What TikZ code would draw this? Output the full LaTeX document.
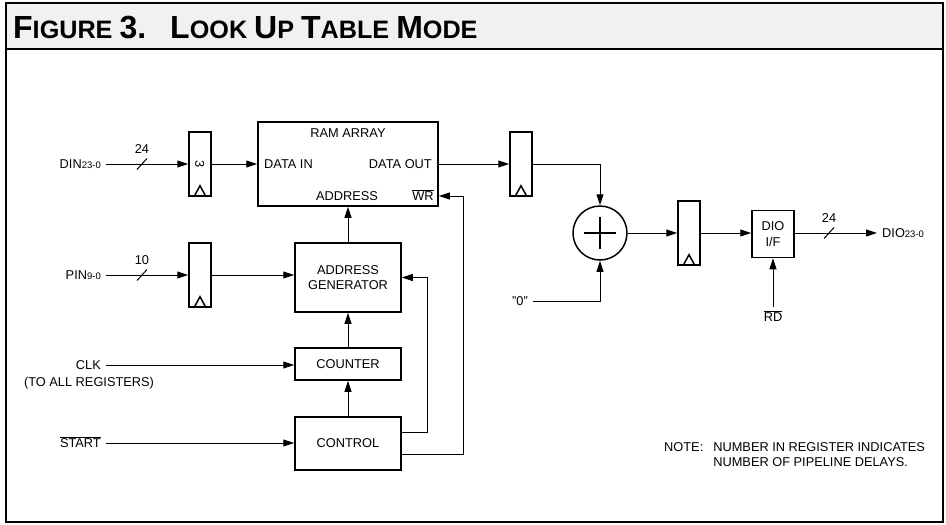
\documentclass[tikz,border=0pt]{standalone}
\usepackage{fontspec}
\setmainfont{Liberation Sans}
\usetikzlibrary{arrows.meta}
\newcommand{\sigbar}[1]{$\overline{\mbox{#1}}$}
\newcommand{\bussub}[1]{{\fontsize{9.5}{9.5}\selectfont #1}}
\newcommand{\smcap}[2]{{\fontsize{32}{32}\selectfont #1}{\fontsize{25.2}{25.2}\selectfont #2}}

\begin{document}
\begin{tikzpicture}[x=1pt, y=-1pt, font=\fontsize{12.8}{15.5}\selectfont,
	blk/.style={draw, line width=1.5pt, inner sep=0pt, align=center},
	reg/.style={draw, line width=1.5pt, inner sep=0pt, minimum width=22pt, minimum height=64pt},
	lbl/.style={inner sep=0pt, text height=9.2pt, text depth=0pt},
	sig/.style={line width=1pt, -{Triangle[length=11pt, width=7pt]}},
	wire/.style={line width=1pt}]
	\useasboundingbox (0,0) rectangle (946,525);
	% frame and title band
	\draw[line width=2pt, fill=gray!11] (6,3) rectangle (943,49);
	\draw[line width=2pt] (6,49) rectangle (943,522);
	\node[anchor=base west, inner sep=0pt, font=\bfseries\fontsize{25.2}{25.2}\selectfont] (title) at (13,38) {\smcap{F}{IGURE} \smcap{3.}{}\hspace{24pt}\smcap{L}{OOK} \smcap{U}{P} \smcap{T}{ABLE} \smcap{M}{ODE}};

	% registers
	\node[reg] (r1) at (200,164) {};
	\node[reg] (r2) at (200,275) {};
	\node[reg] (r3) at (521,164) {};
	\node[reg] (r4) at (689,233) {};
	\foreach \r in {r1,r2,r3,r4}
		\draw[line width=1.5pt] ([xshift=-6pt]\r.south) -- ([yshift=11pt]\r.south) -- ([xshift=6pt]\r.south);
	\node[lbl, rotate=-90] (n3) at (r1) {3};

	% blocks
	\node[blk, minimum width=180pt, minimum height=84pt] (ram) at (348,164) {};
	\node[lbl] (ramt) at (348,133) {RAM ARRAY};
	\node[lbl, anchor=west] (datin) at (264,164) {DATA IN};
	\node[lbl, anchor=east] (datout) at (432,164) {DATA OUT};
	\node[lbl] (addr) at (347,196) {ADDRESS};
	\node[lbl] (wr) at (423,196) {\sigbar{WR}};
	\node[blk, minimum width=106pt, minimum height=69pt] (agen) at (348,277.5) {ADDRESS\\GENERATOR};
	\node[blk, minimum width=106pt, minimum height=32pt] (cnt) at (348,364) {COUNTER};
	\node[blk, minimum width=106pt, minimum height=53pt] (ctl) at (348,443.5) {CONTROL};
	\node[draw, circle, line width=1.5pt, minimum size=54pt, inner sep=0pt] (sum) at (600,233) {};
	\draw[line width=1.5pt] ([xshift=-16pt]sum.center) -- ([xshift=16pt]sum.center)
		([yshift=-16pt]sum.center) -- ([yshift=16pt]sum.center);
	\node[blk, minimum width=42pt, minimum height=47pt] (dio) at (773,234) {DIO\\[1pt]I/F};

	% signal names
	\node[lbl, anchor=east] (dinp) at (101,164) {DIN\bussub{23-0}};
	\node[lbl, anchor=east] (pinp) at (101,275) {PIN\bussub{9-0}};
	\node[lbl, anchor=east] (clk) at (101,365) {CLK};
	\node[lbl] (clkn) at (89,382) {(TO ALL REGISTERS)};
	\node[lbl, anchor=east] (start) at (101,443) {\sigbar{START}};
	\node[lbl, anchor=east] (zero) at (528,301) {"0"};
	\node[lbl] (rd) at (773,317) {\sigbar{RD}};
	\node[lbl, anchor=west] (dioout) at (882,233) {DIO\bussub{23-0}};

	% bus widths
	\foreach \x/\y/\w [count=\i] in {142/164/24, 142/275/10, 829/233/24} {
		\draw[wire] (\x-5,\y+5.5) -- (\x+5,\y-5.5);
		\node[lbl] (bus\i) at (\x,\y-15) {\w};
	}

	% connections
	\draw[sig] ([xshift=5pt]dinp.east) -- (r1.west);
	\draw[sig] (r1.east) -- (ram.west);
	\draw[sig] ([xshift=5pt]pinp.east) -- (r2.west);
	\draw[sig] (r2.east) -- (r2.east -| agen.west);
	\draw[sig] ([xshift=5pt]clk.east) -- (clk.east -| cnt.west);
	\draw[sig] ([xshift=5pt]start.east) -- (start.east -| ctl.west);
	\draw[sig] (cnt.north) -- (agen.south);
	\draw[sig] (ctl.north) -- (cnt.south);
	\draw[sig] (agen.north) -- (ram.south);
	\draw[sig] ([yshift=11.5pt]ctl.east) -- ++(26,0) |- (agen.east);
	\draw[sig] ([yshift=-10.5pt]ctl.east) -- ++(62,0) |- (wr.east -| ram.east);
	\draw[sig] (ram.east) -- (r3.west);
	\draw[sig] (r3.east) -| (sum.north);
	\draw[sig] ([xshift=5pt]zero.east) -| (sum.south);
	\draw[sig] (sum.east) -- (r4.west);
	\draw[sig] (r4.east) -- (r4.east -| dio.west);
	\draw[sig] (dio.east |- r4.east) -- ([xshift=-5pt]dioout.west);
	\draw[sig] ([yshift=5pt]rd.north) -- (dio.south);

	% note
	\node[anchor=base west, inner sep=0pt] (note) at (664,451) {\begin{tabular}[t]{@{}l@{\hspace{10pt}}l@{}}NOTE: & NUMBER IN REGISTER INDICATES\\ & NUMBER OF PIPELINE DELAYS.\end{tabular}};
\end{tikzpicture}
\end{document}
